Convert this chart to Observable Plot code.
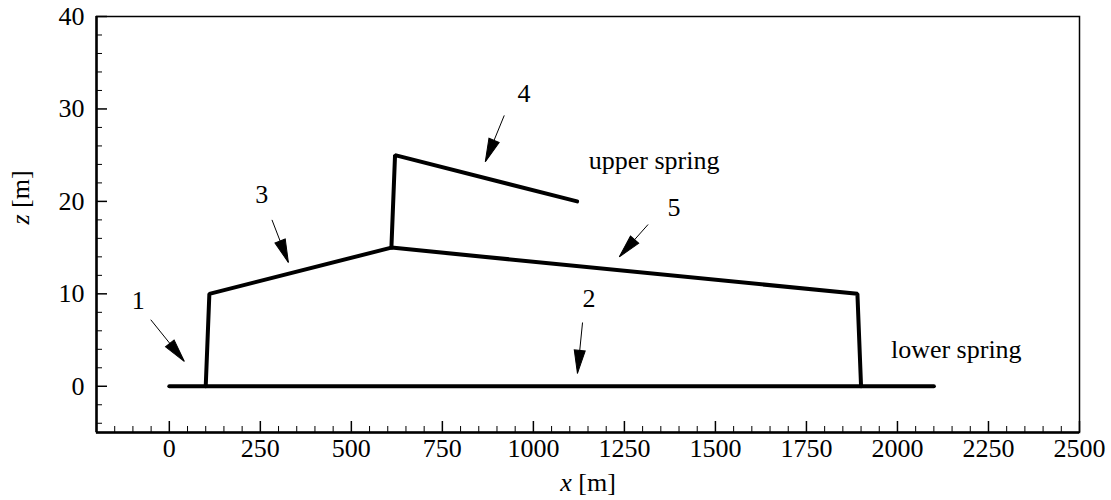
<!DOCTYPE html>
<html><head><meta charset="utf-8">
<script src="https://cdn.jsdelivr.net/npm/d3@7"></script>
<script src="https://cdn.jsdelivr.net/npm/@observablehq/plot@0.6"></script>
<style>body{margin:0;background:#fff;} #chart{width:1111px;height:500px;}</style>
</head><body><div id="chart"></div>
<script>
// ---- data ----
const lowerX = [0, 2100];
const lowerZ = [0, 0];
const mainX = [100, 110, 610, 1890, 1900];
const mainZ = [0, 10, 15, 10, 0];
const upperX = [610, 620, 1120];
const upperZ = [15, 25, 20];

const arrowLabels = ["1", "2", "3", "4", "5"];
const arrowTailX = [-51, 1135, 282, 920, 1315];
const arrowTailZ = [7.2, 6.9, 18.0, 29.3, 17.5];
const arrowTipX = [41, 1121, 327, 868, 1236];
const arrowTipZ = [2.7, 1.4, 13.4, 24.3, 14.0];
const labelX = [-85, 1153, 254, 974, 1386];
const labelZ = [9.3, 9.5, 20.7, 31.6, 19.3];

const springNames = ["upper spring", "lower spring"];
const springX = [1152, 1982];
const springZ = [24.4, 4.0];

const xMajor = [0, 250, 500, 750, 1000, 1250, 1500, 1750, 2000, 2250, 2500];
const xMinor = d3.range(-150, 2500, 50).filter(v => v % 250 !== 0);
const zMajor = [0, 10, 20, 30, 40];
const zMinor = d3.range(-4, 40, 2).filter(v => v % 10 !== 0);

const xDomain = [-200, 2500];
const zDomain = [-5, 40];

// ---- layout ----
const W = 1111, H = 500;
const mL = 96, mR = 32, mT = 16, mB = 68;
const sx = d3.scaleLinear(xDomain, [mL, W - mR]);
const sy = d3.scaleLinear(zDomain, [H - mB, mT]);

const idx = arrowLabels.map((_, i) => i);
const angles = idx.map(i => {
  const dx = sx(arrowTipX[i]) - sx(arrowTailX[i]);
  const dy = sy(arrowTipZ[i]) - sy(arrowTailZ[i]);
  return Math.atan2(dx, -dy) * 180 / Math.PI;
});

const headShape = {
  draw(ctx, l) {
    const w = 5.5;
    ctx.moveTo(0, -l);
    ctx.lineTo(-w, 0);
    ctx.lineTo(w, 0);
    ctx.closePath();
  }
};

const FS = 26;
const FF = "Liberation Serif, DejaVu Serif, serif";
const lineStyle = {stroke: "black", strokeWidth: 4, strokeLinejoin: "miter", strokeLinecap: "round"};
const plain = d => String(d);

const chart = Plot.plot({
  width: W, height: H,
  marginLeft: mL, marginRight: mR, marginTop: mT, marginBottom: mB,
  style: {fontFamily: FF, fontSize: FS + "px", color: "black", background: "white"},
  x: {domain: xDomain, label: null},
  y: {domain: zDomain, label: null},
  marks: [
    Plot.axisX(xMajor, {tickSize: 0, tickPadding: 6, fontSize: FS, fontFamily: FF, tickFormat: plain, label: null}),
    Plot.axisY(zMajor, {tickSize: 0, tickPadding: 12, fontSize: FS, fontFamily: FF, tickFormat: plain, label: null}),
    Plot.axisX(xMajor, {tickSize: -11, tickFormat: () => "", strokeWidth: 1.5, label: null}),
    Plot.axisX(xMinor, {tickSize: -6, tickFormat: () => "", strokeWidth: 1, label: null}),
    Plot.axisY(zMajor, {tickSize: -11, tickFormat: () => "", strokeWidth: 1.5, label: null}),
    Plot.axisY(zMinor, {tickSize: -6, tickFormat: () => "", strokeWidth: 1, label: null}),
    Plot.frame({stroke: "black", strokeWidth: 1.5}),
    Plot.ruleX([xDomain[0]], {stroke: "black", strokeWidth: 2.5}),
    Plot.ruleY([zDomain[0]], {stroke: "black", strokeWidth: 2.5}),
    Plot.line(lowerX.map((x, i) => ({x, z: lowerZ[i]})), {x: "x", y: "z", ...lineStyle}),
    Plot.line(mainX.map((x, i) => ({x, z: mainZ[i]})), {x: "x", y: "z", ...lineStyle}),
    Plot.line(upperX.map((x, i) => ({x, z: upperZ[i]})), {x: "x", y: "z", ...lineStyle}),
    Plot.link(idx, {x1: i => arrowTailX[i], y1: i => arrowTailZ[i], x2: i => arrowTipX[i], y2: i => arrowTipZ[i], stroke: "black", strokeWidth: 1}),
    Plot.vector(idx, {x: i => arrowTipX[i], y: i => arrowTipZ[i], rotate: i => angles[i], length: 23, anchor: "end", shape: headShape, fill: "black", stroke: "black", strokeWidth: 1, strokeLinejoin: "miter"}),
    Plot.text(idx, {x: i => labelX[i], y: i => labelZ[i], text: i => arrowLabels[i], fontSize: FS, fontFamily: FF, lineAnchor: "middle"}),
    Plot.text(springNames, {x: (d, i) => springX[i], y: (d, i) => springZ[i], text: d => d, textAnchor: "start", fontSize: FS, fontFamily: FF, lineAnchor: "middle"}),
    Plot.text(["x [m]"], {frameAnchor: "bottom", dy: 50, fontSize: FS, fontFamily: FF, lineAnchor: "middle"}),
    Plot.text(["z [m]"], {frameAnchor: "left", dx: -76, rotate: -90, fontSize: FS, fontFamily: FF, lineAnchor: "middle"})
  ]
});

d3.select(chart).selectAll("text").each(function() {
  const t = this.textContent;
  if (t === "x [m]" || t === "z [m]") {
    const s = d3.select(this);
    s.text(null);
    s.append("tspan").attr("font-style", "italic").text(t[0]);
    s.append("tspan").text(" [m]");
  }
});

document.getElementById("chart").appendChild(chart);
</script>
</body></html>
